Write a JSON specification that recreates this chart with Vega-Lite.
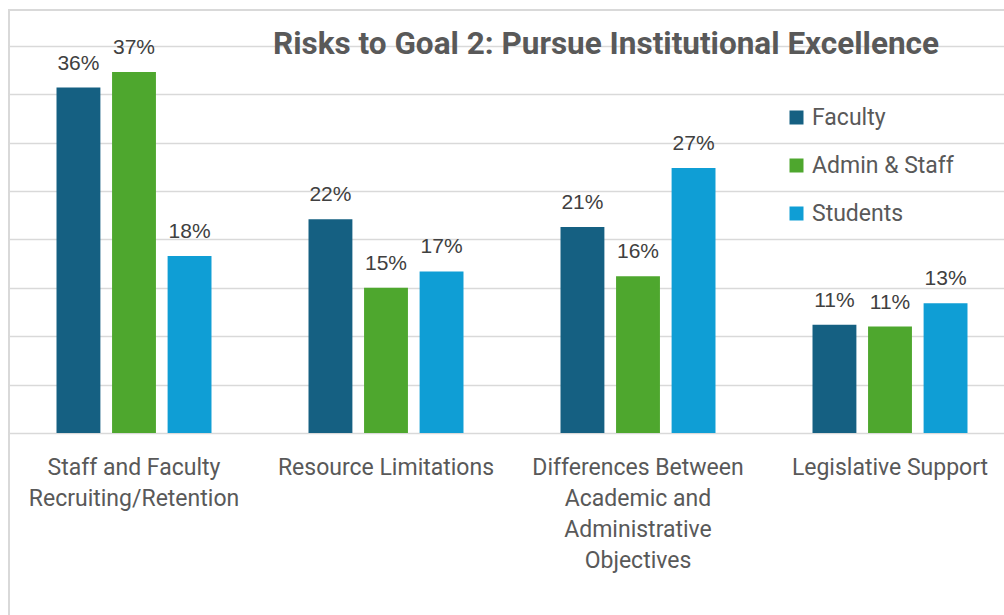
{
  "$schema": "https://vega.github.io/schema/vega-lite/v6.json",
  "autosize": {"type": "none"},
  "padding": {"left": 9, "top": 10, "right": -6, "bottom": -6},
  "width": 1001,
  "height": 611,
  "background": "white",
  "config": {"view": {"stroke": "#d9d9d9", "strokeWidth": 2}},
  "title": {
    "text": "Risks to Goal 2: Pursue Institutional Excellence",
    "anchor": "start",
    "frame": "group",
    "dx": 264,
    "dy": 75,
    "offset": 0,
    "baseline": "alphabetic",
    "font": "Roboto",
    "fontSize": 31.5,
    "fontWeight": "bold",
    "color": "#595959"
  },
  "data": {
    "values": [
      {"risk": "Staff and Faculty|Recruiting/Retention", "group": "Faculty", "value": 0.357},
      {"risk": "Staff and Faculty|Recruiting/Retention", "group": "Admin & Staff", "value": 0.373},
      {"risk": "Staff and Faculty|Recruiting/Retention", "group": "Students", "value": 0.183},
      {"risk": "Resource Limitations", "group": "Faculty", "value": 0.221},
      {"risk": "Resource Limitations", "group": "Admin & Staff", "value": 0.150},
      {"risk": "Resource Limitations", "group": "Students", "value": 0.167},
      {"risk": "Differences Between|Academic and|Administrative|Objectives", "group": "Faculty", "value": 0.213},
      {"risk": "Differences Between|Academic and|Administrative|Objectives", "group": "Admin & Staff", "value": 0.162},
      {"risk": "Differences Between|Academic and|Administrative|Objectives", "group": "Students", "value": 0.274},
      {"risk": "Legislative Support", "group": "Faculty", "value": 0.112},
      {"risk": "Legislative Support", "group": "Admin & Staff", "value": 0.110},
      {"risk": "Legislative Support", "group": "Students", "value": 0.134}
    ]
  },
  "encoding": {
    "x": {
      "field": "risk",
      "type": "nominal",
      "sort": null,
      "scale": {"range": [-1, 1007], "paddingInner": 0.385, "paddingOuter": 0.1925},
      "axis": {
        "title": null,
        "orient": "bottom",
        "offset": -165,
        "domain": false,
        "ticks": false,
        "labelPadding": 0,
        "labelAngle": 0,
        "labelAlign": "center",
        "labelBaseline": "top",
        "labelExpr": "split(datum.value, '|')",
        "labelLimit": 400,
        "labelLineHeight": 31,
        "labelFont": "Roboto",
        "labelFontSize": 23,
        "labelColor": "#595959"
      }
    },
    "xOffset": {
      "field": "group",
      "type": "nominal",
      "sort": ["Faculty", "Admin & Staff", "Students"],
      "scale": {"paddingInner": 0.21, "paddingOuter": 0}
    },
    "y": {
      "field": "value",
      "type": "quantitative",
      "scale": {"domain": [-0.19432, 0.43721], "nice": false, "zero": false},
      "axis": {
        "title": null,
        "labels": false,
        "ticks": false,
        "domain": false,
        "grid": true,
        "gridColor": "#d9d9d9",
        "gridWidth": 1.5,
        "values": [0, 0.05, 0.1, 0.15, 0.2, 0.25, 0.3, 0.35, 0.4]
      }
    }
  },
  "layer": [
    {
      "mark": {"type": "bar"},
      "encoding": {
        "y2": {"datum": 0},
        "color": {
          "field": "group",
          "type": "nominal",
          "sort": ["Faculty", "Admin & Staff", "Students"],
          "scale": {"domain": ["Faculty", "Admin & Staff", "Students"], "range": ["#156082", "#4ea72e", "#0f9ed5"]},
          "legend": {
            "title": null,
            "orient": "none",
            "legendX": 776,
            "legendY": 96,
            "symbolType": "square",
            "symbolSize": 196,
            "symbolStrokeWidth": 0,
            "labelFont": "Roboto",
            "labelFontSize": 23,
            "labelColor": "#595959",
            "labelOffset": 4,
            "rowPadding": 24
          }
        }
      }
    },
    {
      "mark": {"type": "text", "baseline": "alphabetic", "dy": -18, "font": "Liberation Sans", "fontSize": 21, "color": "#404040"},
      "encoding": {
        "text": {"field": "value", "type": "quantitative", "format": ".0%"}
      }
    }
  ]
}
